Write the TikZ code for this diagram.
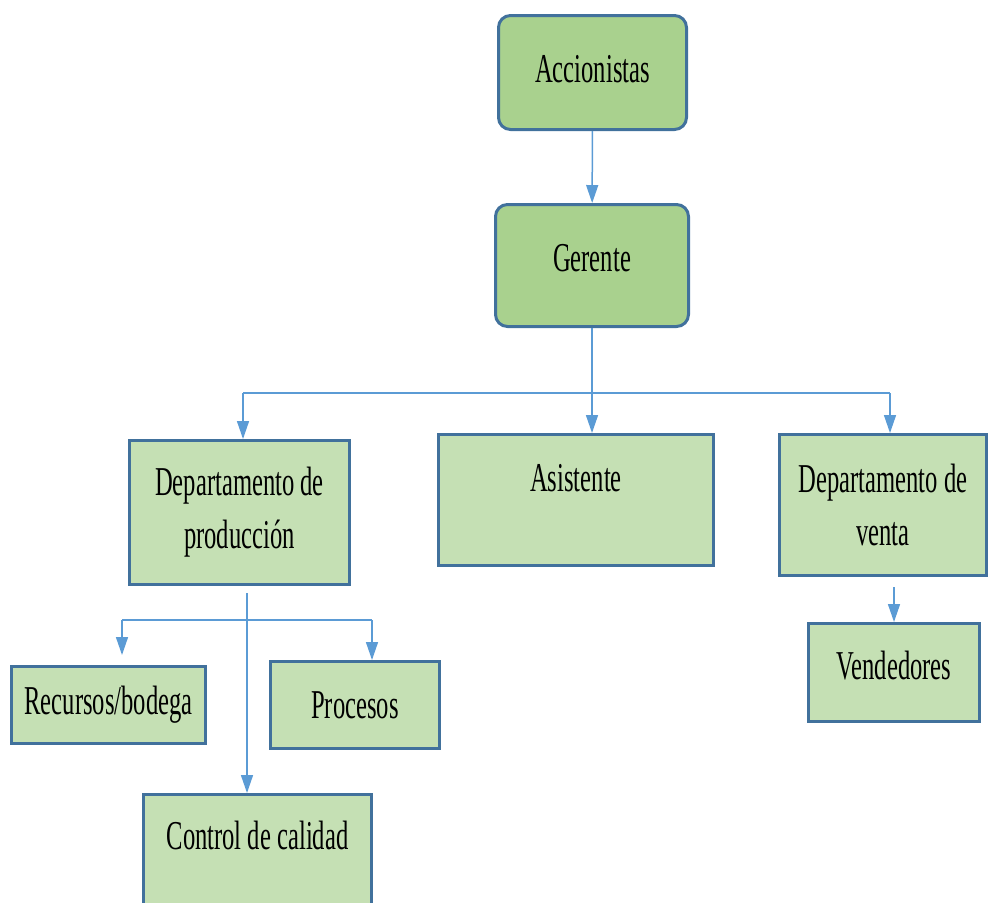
\documentclass[tikz,border=0pt]{standalone}
\usepackage{fontspec}
\setmainfont[FakeStretch=0.6]{Liberation Serif}
\usetikzlibrary{arrows.meta}
\definecolor{topgreen}{HTML}{A9D18E}
\definecolor{boxgreen}{HTML}{C5E0B4}
\definecolor{edgeblue}{HTML}{41719C}
\definecolor{linkblue}{HTML}{5B9BD5}

\begin{document}
\begin{tikzpicture}[
  x=0.5pt,y=-0.5pt,
  unit/.style={draw=edgeblue,line width=1.5pt,fill=boxgreen,align=center,inner sep=2pt,
    font=\fontsize{20.5pt}{26.5pt}\selectfont},
  head/.style={unit,fill=topgreen,rounded corners=6pt},
  lift/.style={text depth=#1},
  link/.style={draw=linkblue,line width=0.75pt},
  arrow/.style={link,-{Triangle[width=6pt,length=9pt]}}
]
  \useasboundingbox (0,0) rectangle (990,902);
  \node[head,minimum width=94pt,minimum height=57pt,lift=4pt] (acc) at (592.5,72.5) {Accionistas};
  \node[head,minimum width=96.5pt,minimum height=61pt,lift=8pt] (ger) at (592,265.5) {Gerente};
  \node[unit,minimum width=110pt,minimum height=72pt] (prod) at (239.5,512.5) {Departamento de\\producción};
  \node[unit,minimum width=137.5pt,minimum height=65.5pt,lift=22pt] (asis) at (576,500) {Asistente};
  \node[unit,minimum width=103.5pt,minimum height=70.5pt] (venta) at (883,505) {Departamento de\\venta};
  \node[unit,minimum width=85.5pt,minimum height=49pt,lift=7pt] (vend) at (894,672.5) {Vendedores};
  \node[unit,minimum width=97pt,minimum height=38.5pt] (recur) at (108.5,705) {Recursos/bodega};
  \node[unit,minimum width=84.5pt,minimum height=43.5pt] (proc) at (355,705) {Procesos};
  \node[unit,minimum width=114pt,minimum height=67.5pt,lift=27pt] (ctrl) at (257.5,862) {Control de calidad};

  \coordinate (hubL) at (243,393);
  \coordinate (hubR) at (890,393);
  \coordinate (sub) at (247,620);
  \coordinate (subL) at (122,620);
  \coordinate (subR) at (372,620);

  \draw[arrow] (acc) -- (ger);
  \draw[arrow] (ger.south) -- (ger.south |- asis.north);
  \draw[link] (hubL) -- (hubR);
  \draw[arrow] (hubL) -- (hubL |- prod.north);
  \draw[arrow] (hubR) -- (hubR |- venta.north);
  \draw[arrow,shorten <=5pt] (venta.south -| vend.north) -- (vend.north);
  \draw[arrow,shorten <=3.5pt] (prod.south -| sub) -- (sub |- ctrl.north);
  \draw[link] (subL) -- (subR);
  \draw[arrow,shorten >=5pt] (subL) -- (subL |- recur.north);
  \draw[arrow] (subR) -- (subR |- proc.north);
\end{tikzpicture}
\end{document}
